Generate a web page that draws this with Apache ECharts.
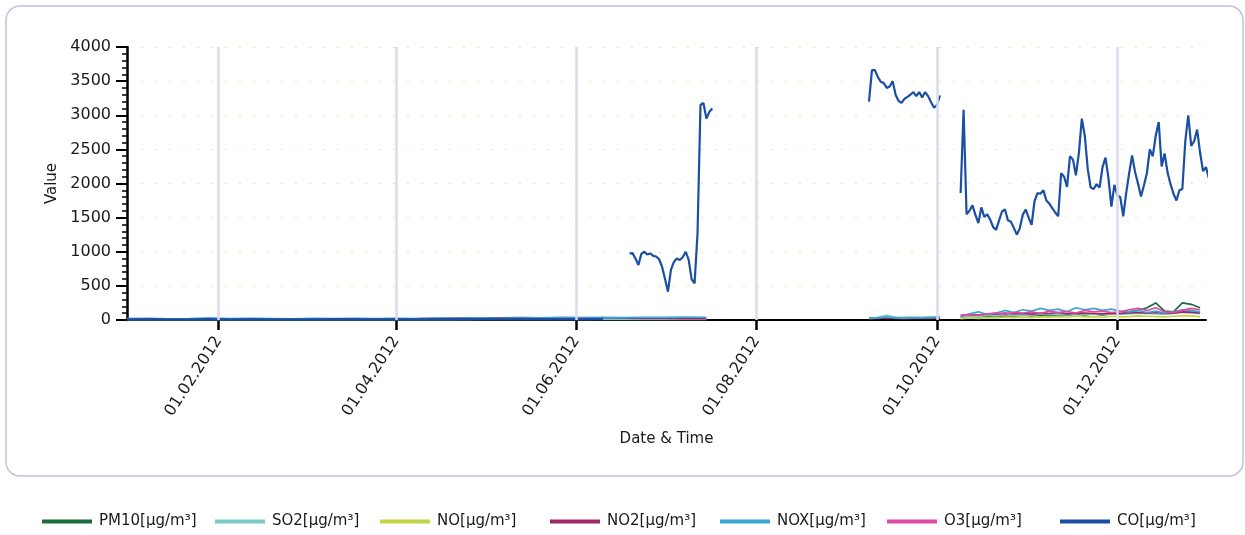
<!DOCTYPE html>
<html>
<head>
<meta charset="utf-8">
<script src="https://cdn.jsdelivr.net/npm/echarts@6/dist/echarts.min.js"></script>
<style>
html,body{margin:0;padding:0;background:#fff;}
#chart{width:1245px;height:535px;}
</style>
</head>
<body>
<div id="chart"></div>
<script>
// ---------- data ----------
const seriesNames = ['PM10[µg/m³]','SO2[µg/m³]','NO[µg/m³]','NO2[µg/m³]','NOX[µg/m³]','O3[µg/m³]','CO[µg/m³]'];
const seriesColors = ['#1e6b3c','#7cc8c8','#c4d444','#a02868','#3aa6d4','#e04aa0','#1a4fa3'];

const xTickDates  = ['2012-02-01','2012-04-01','2012-06-01','2012-08-01','2012-10-01','2012-12-01'];
const xTickLabels = ['01.02.2012','01.04.2012','01.06.2012','01.08.2012','01.10.2012','01.12.2012'];

// period 1: weekly from 2012-01-01 (low values)
const p1Start = '2012-01-01';
const p1Step = 7;
const so2P1 = [5,6,5,6,7,5,6,6,5,5,6,6,5,6,6,7,6,7,7,8,7,8,7,8,8,8,8,8,8];
const no2P1 = [15,18,12,16,20,14,18,15,12,16,14,18,15,18,20,25,28,32,30,35,33,36,34,30,28,25,22,20,18];
const noxP1 = [20,25,18,22,28,20,25,22,18,24,20,26,22,25,20,28,24,30,26,32,30,35,32,38,35,40,38,42,40];
const coP1  = [10,12,9,11,14,10,12,11,9,10,12,13,10,12,11,14,12,15,13,16,14,15,14,16];

// period 2: every 3 days from 2012-09-08
const p2Start = '2012-09-08';
const p2Step = 3;
const so2P2 = [35,40,70,40,38,42,40,45,48];
const no2P2 = [20,22,30,22,20,24,22,25,28];
const noxP2 = [25,30,45,30,28,32,30,35,40];

// period 3: every 3 days from 2012-10-09
const p3Start = '2012-10-09';
const p3Step = 3;
const pm10P3 = [40,55,45,60,50,65,55,70,60,75,65,80,70,85,75,90,70,95,90,120,140,180,250,130,120,250,230,180];
const so2P3  = [40,60,50,70,60,80,65,75,70,90,80,85,75,95,85,90,80,100,85,90,100,95,90,85,95,110,100,95];
const noP3   = [20,30,25,35,30,40,35,40,35,45,40,50,40,55,45,50,40,55,45,50,60,55,50,45,55,65,60,50];
const no2P3  = [70,80,75,90,85,100,90,95,85,100,95,110,90,105,100,95,90,100,95,105,110,100,110,95,100,120,115,100];
const noxP3  = [50,90,120,80,100,140,110,150,130,170,140,160,120,180,150,170,140,160,130,120,140,110,130,100,120,150,140,120];
const o3P3   = [60,80,70,90,100,85,110,100,120,95,130,110,125,100,140,120,130,110,120,150,170,140,180,120,110,140,170,150];

// CO: daily segments
const coSeg1Start = '2012-06-19';
const coSeg1 = [977,980,900,806,970,1000,960,975,940,930,890,780,600,415,733,850,900,880,920,1000,880,600,537,1270,3150,3180,2950,3050,3100];
const coSeg2Start = '2012-09-08';
const coSeg2 = [3200,3660,3660,3560,3490,3470,3400,3420,3500,3300,3210,3180,3240,3270,3300,3340,3280,3340,3260,3340,3280,3190,3110,3150,3290];
const coSeg3Start = '2012-10-09';
const coSeg3 = [1860,3080,1550,1600,1680,1540,1420,1650,1510,1550,
 1470,1360,1320,1460,1590,1620,1460,1440,1350,1250,
 1343,1540,1620,1500,1395,1740,1860,1850,1900,1750,
 1705,1640,1575,1520,2150,2100,1950,2400,2350,2120,
 2450,2950,2700,2210,1940,1920,1990,1940,2240,2380,
 2080,1660,1980,1830,1800,1520,1860,2150,2410,2170,
 2000,1810,1970,2150,2500,2400,2700,2900,2250,2440,
 2160,1990,1850,1750,1900,1920,2620,3000,2550,2620,
 2790,2450,2180,2240,2075];

// ---------- helpers ----------
function ts(str, addDays) {
  const p = str.split('-').map(Number);
  return new Date(p[0], p[1]-1, p[2] + (addDays||0)).getTime();
}
function seg(start, step, values) {
  const out = values.map((v,i) => [ts(start, i*step), v]);
  out.push([ts(start, values.length*step), null]); // break the line after the segment
  return out;
}
function join() { return [].concat.apply([], arguments); }

const seriesData = [
  seg(p3Start,p3Step,pm10P3),
  join(seg(p1Start,p1Step,so2P1), seg(p2Start,p2Step,so2P2), seg(p3Start,p3Step,so2P3)),
  seg(p3Start,p3Step,noP3),
  join(seg(p1Start,p1Step,no2P1), seg(p2Start,p2Step,no2P2), seg(p3Start,p3Step,no2P3)),
  join(seg(p1Start,p1Step,noxP1), seg(p2Start,p2Step,noxP2), seg(p3Start,p3Step,noxP3)),
  seg(p3Start,p3Step,o3P3),
  join(seg(p1Start,p1Step,coP1), seg(coSeg1Start,1,coSeg1), seg(coSeg2Start,1,coSeg2), seg(coSeg3Start,1,coSeg3))
];

const tickTs = xTickDates.map(d => ts(d));
const FONT = 'DejaVu Sans';

const series = seriesNames.map((n,i) => ({
  name: n,
  type: 'line',
  data: seriesData[i],
  showSymbol: false,
  symbol: 'none',
  connectNulls: false,
  z: 3,
  lineStyle: { color: seriesColors[i], width: i === 6 ? 2.2 : 1.7 },
  itemStyle: { color: seriesColors[i] }
}));
// vertical grid lines at the labelled dates
series.push({
  type: 'line',
  data: [],
  silent: true,
  z: 1,
  markLine: {
    silent: true,
    symbol: 'none',
    label: { show: false },
    lineStyle: { color: '#dcd8ee', width: 2.5, type: 'solid' },
    data: tickTs.map(t => ({ xAxis: t }))
  }
});

const legendLeft = [37, 210, 375, 545, 715, 882, 1055];
const legends = seriesNames.map((n,i) => ({
  data: [n],
  left: legendLeft[i],
  top: 509,
  icon: 'rect',
  itemWidth: 50,
  itemHeight: 4,
  itemGap: 0,
  selectedMode: false,
  textStyle: { fontFamily: FONT, fontSize: 15, color: '#1a1a1a', padding: [0,0,0,2] }
}));

const chart = echarts.init(document.getElementById('chart'), null, { renderer: 'canvas' });
chart.setOption({
  animation: false,
  backgroundColor: '#fff',
  graphic: [{
    type: 'rect',
    shape: { x: 6, y: 6, width: 1237, height: 470, r: 14 },
    style: { fill: 'none', stroke: '#c6c0de', lineWidth: 1.5 },
    silent: true,
    z: -10
  }],
  legend: legends,
  grid: { left: 127, right: 39, top: 47, bottom: 215, outerBoundsMode: 'none' },
  xAxis: {
    type: 'value',
    min: ts('2012-01-01'),
    max: ts('2012-12-31'),
    name: 'Date & Time',
    nameLocation: 'middle',
    nameGap: 112,
    nameTextStyle: { fontFamily: FONT, fontSize: 15, color: '#1a1a1a' },
    axisLine: { show: true, onZero: false, lineStyle: { color: '#000', width: 2 } },
    axisTick: { show: true, customValues: tickTs, length: 10, lineStyle: { color: '#000', width: 2.5 } },
    axisLabel: {
      customValues: tickTs,
      rotate: 57,
      margin: 18,
      fontFamily: FONT,
      fontSize: 16,
      color: '#1a1a1a',
      formatter: function (v) {
        const i = tickTs.indexOf(v);
        return i >= 0 ? xTickLabels[i] : '';
      }
    },
    splitLine: { show: false },
    minorTick: { show: false }
  },
  yAxis: {
    type: 'value',
    min: 0,
    max: 4000,
    interval: 500,
    name: 'Value',
    nameLocation: 'middle',
    nameRotate: 90,
    nameGap: 45,
    nameTextStyle: { fontFamily: FONT, fontSize: 15, color: '#1a1a1a' },
    axisLine: { show: true, lineStyle: { color: '#000', width: 2.5 } },
    axisTick: { show: true, length: 11, lineStyle: { color: '#000', width: 2 } },
    minorTick: { show: true, splitNumber: 5, length: 5, lineStyle: { color: '#000', width: 1.5 } },
    axisLabel: { margin: 16, fontFamily: FONT, fontSize: 16, color: '#1a1a1a', formatter: v => String(v) },
    splitLine: { show: true, lineStyle: { color: '#ebe2a8', width: 1, type: [2, 12] } },
    minorSplitLine: { show: false }
  },
  series: series
});
</script>
</body>
</html>
